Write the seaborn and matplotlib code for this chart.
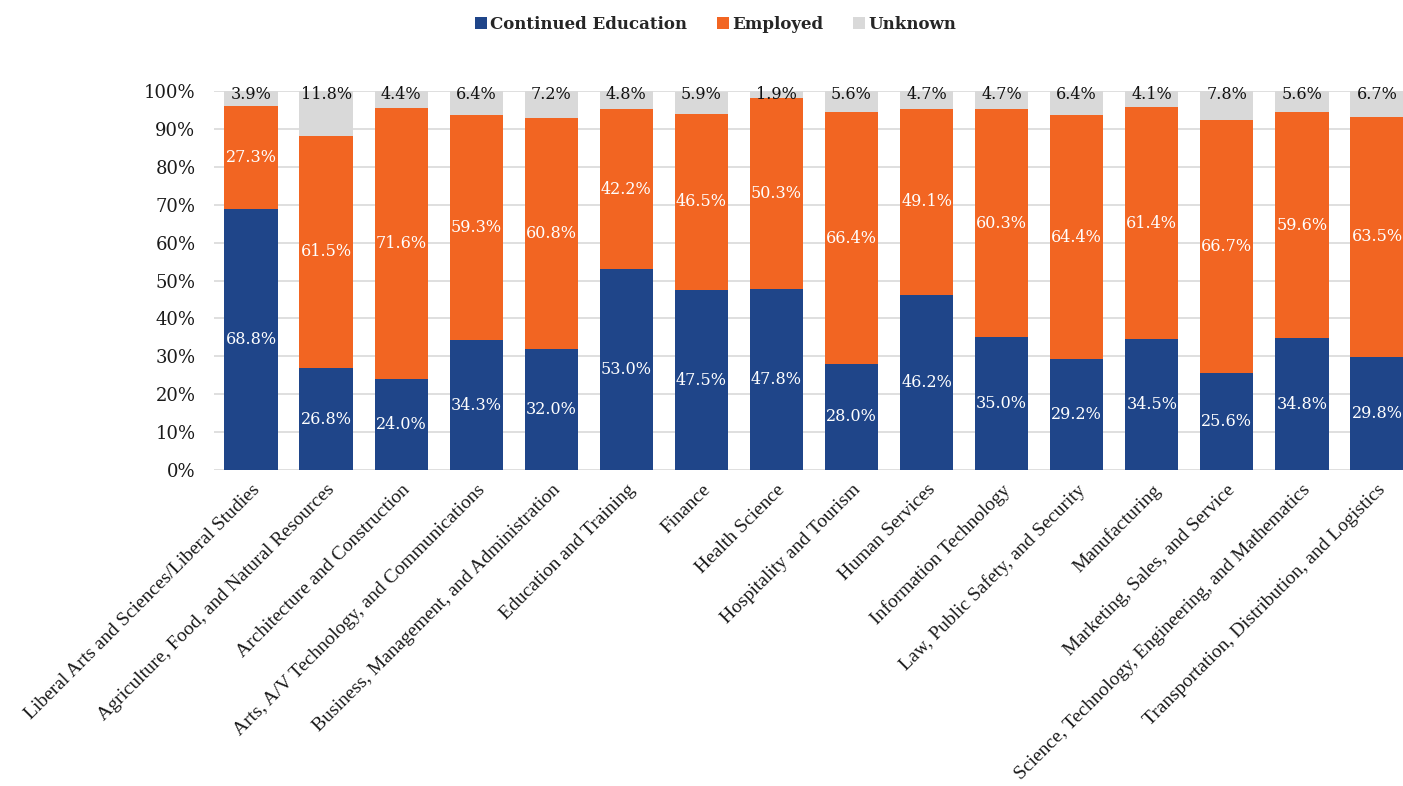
import numpy as np
import pandas as pd
import matplotlib
matplotlib.use("Agg")
import matplotlib.pyplot as plt
from matplotlib.patches import Patch
import seaborn as sns

categories = [
    "Liberal Arts and Sciences/Liberal Studies",
    "Agriculture, Food, and Natural Resources",
    "Architecture and Construction",
    "Arts, A/V Technology, and Communications",
    "Business, Management, and Administration",
    "Education and Training",
    "Finance",
    "Health Science",
    "Hospitality and Tourism",
    "Human Services",
    "Information Technology",
    "Law, Public Safety, and Security",
    "Manufacturing",
    "Marketing, Sales, and Service",
    "Science, Technology, Engineering, and Mathematics",
    "Transportation, Distribution, and Logistics",
]
continued_education = [68.8, 26.8, 24.0, 34.3, 32.0, 53.0, 47.5, 47.8,
                       28.0, 46.2, 35.0, 29.2, 34.5, 25.6, 34.8, 29.8]
employed = [27.3, 61.5, 71.6, 59.3, 60.8, 42.2, 46.5, 50.3,
            66.4, 49.1, 60.3, 64.4, 61.4, 66.7, 59.6, 63.5]
unknown = [3.9, 11.8, 4.4, 6.4, 7.2, 4.8, 5.9, 1.9,
           5.6, 4.7, 4.7, 6.4, 4.1, 7.8, 5.6, 6.7]
series_names = ["Continued Education", "Employed", "Unknown"]
colors = ["#1F4589", "#F26522", "#D9D9D9"]

df = pd.DataFrame({
    "category": categories,
    "ce": continued_education,
    "emp": employed,
    "unk": unknown,
})
df["top_emp"] = df["ce"] + df["emp"]
df["top_unk"] = df["top_emp"] + df["unk"]

sns.set_theme(style="white")
serif = ["DejaVu Serif"]
plt.rcParams["font.family"] = serif

fig = plt.figure(figsize=(14.03, 7.86), dpi=100)
ax = fig.add_axes([0.1522, 0.402, 0.856, 0.482])

bw = 0.71
bar_kw = dict(width=bw, saturation=1, ax=ax, linewidth=0, edgecolor="none")
# stacked bars drawn back-to-front as cumulative heights
sns.barplot(data=df, x="category", y="top_unk", color=colors[2], zorder=2, **bar_kw)
sns.barplot(data=df, x="category", y="top_emp", color=colors[1], zorder=3, **bar_kw)
sns.barplot(data=df, x="category", y="ce", color=colors[0], zorder=4, **bar_kw)

ax.set_ylim(0, 100)
ax.set_xlim(-0.5, len(categories) - 0.5)
ax.set_yticks(np.arange(0, 101, 10))
ax.set_yticklabels([f"{v}%" for v in range(0, 101, 10)], fontsize=13,
                   family=serif, color="#1a1a1a")
ax.yaxis.grid(True, color="#D9D9D9", linewidth=1.2, zorder=0)
ax.set_axisbelow(True)
for s in ax.spines.values():
    s.set_visible(False)
ax.tick_params(axis="both", length=0)
ax.tick_params(axis="y", pad=13)
ax.set_xlabel("")
ax.set_ylabel("")
ax.set_xticks(range(len(categories)))
ax.set_xticklabels(categories, rotation=45, ha="right", rotation_mode="anchor",
                   fontsize=14, family=["Liberation Serif"], color="#1a1a1a")
ax.tick_params(axis="x", pad=8)

# segment value labels
for i, row in df.iterrows():
    ax.text(i, row["ce"] / 2, f"{row['ce']:.1f}%", ha="center", va="center",
            color="white", fontsize=11.5, zorder=6)
    ax.text(i, row["ce"] + row["emp"] / 2, f"{row['emp']:.1f}%", ha="center",
            va="center", color="white", fontsize=11.5, zorder=6)
    ax.text(i, max(row["top_emp"] + row["unk"] / 2, 99.0), f"{row['unk']:.1f}%",
            ha="center", va="center", color="#111111", fontsize=11.5, zorder=6)

handles = [Patch(facecolor=c, edgecolor="none", label=n)
           for c, n in zip(colors, series_names)]
fig.legend(handles=handles, loc="center", bbox_to_anchor=(0.51, 0.969), ncol=3,
           frameon=False, handlelength=0.7, handleheight=0.7, handletextpad=0.2,
           columnspacing=1.8, prop={"family": serif, "size": 12, "weight": "bold"})

fig.savefig("out.png", dpi=100)
